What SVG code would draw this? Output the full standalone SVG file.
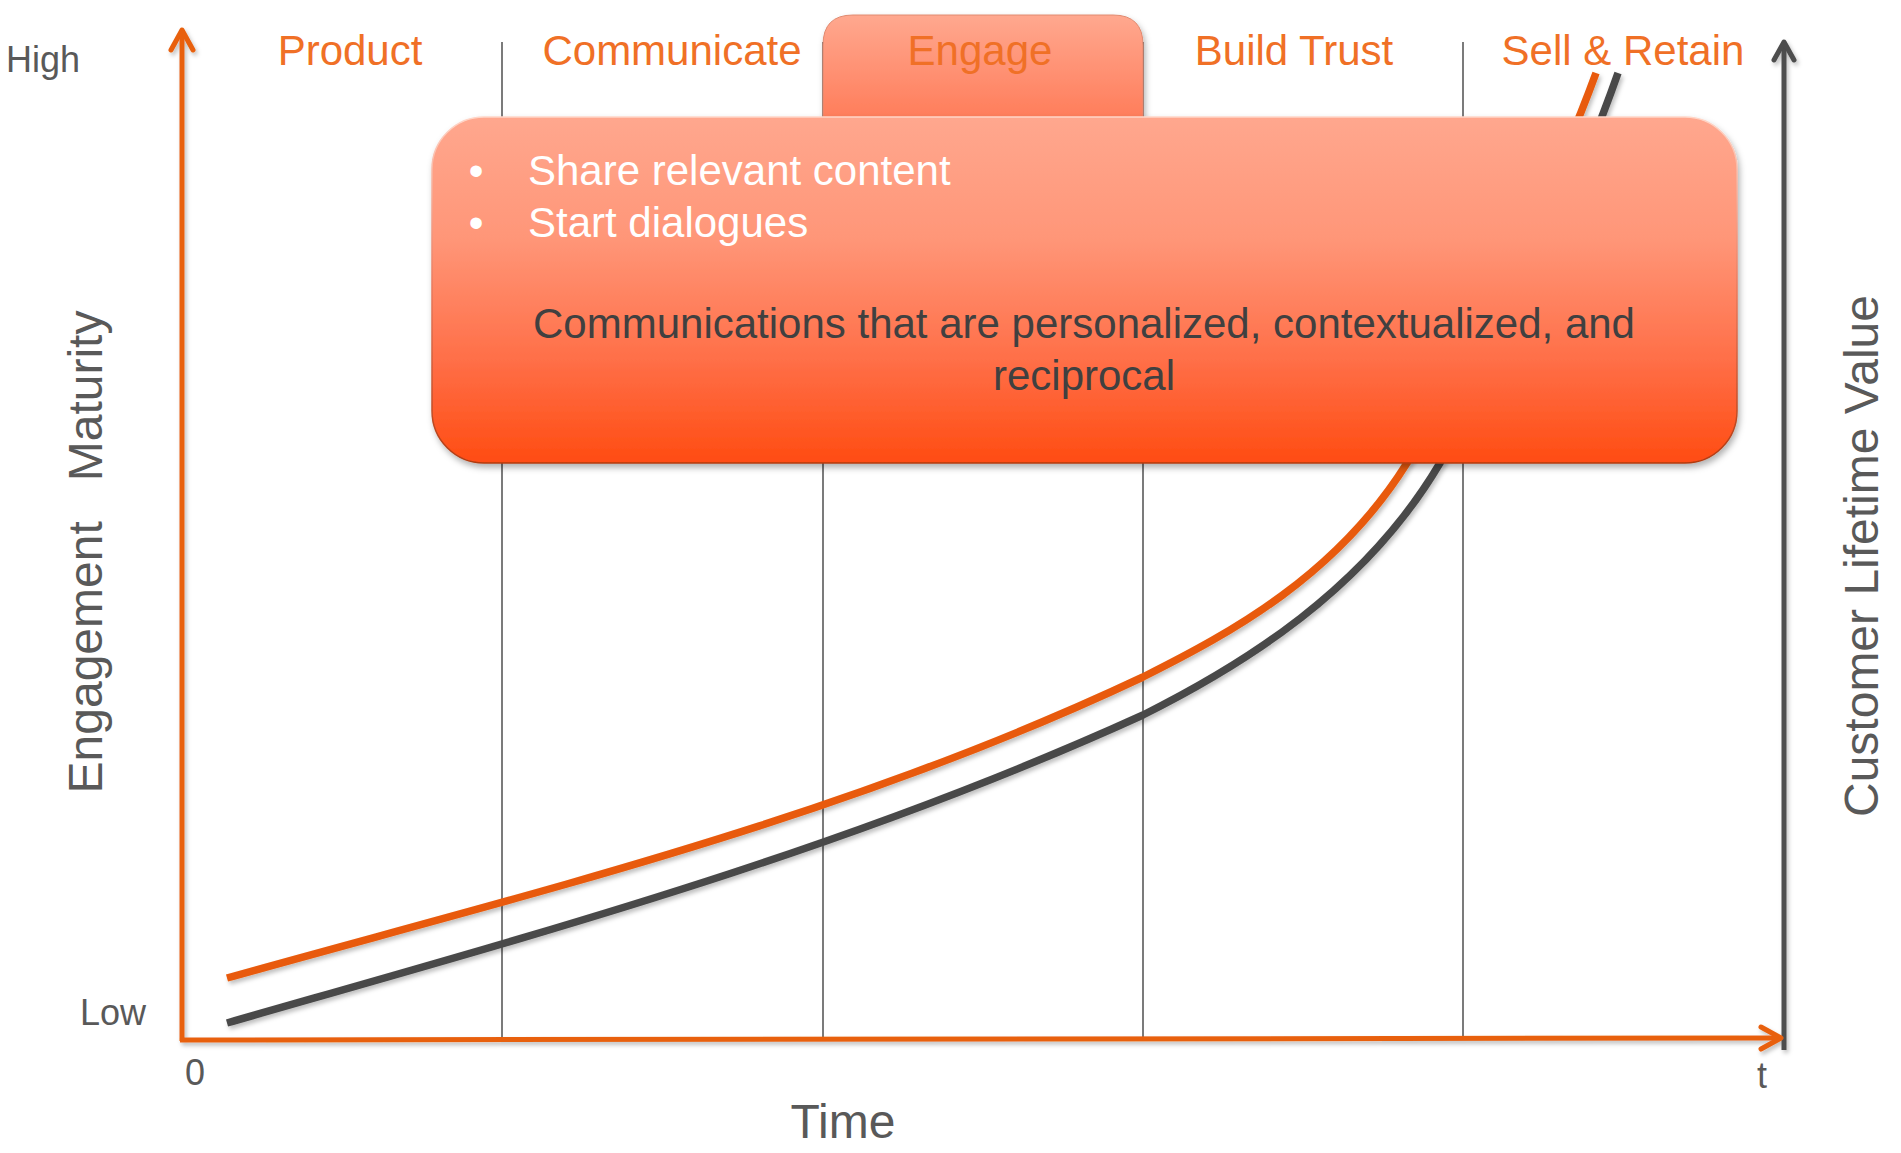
<svg xmlns="http://www.w3.org/2000/svg" width="1901" height="1153" viewBox="0 0 1901 1153">
<defs>
<style>
text{font-family:"Liberation Sans",Arial,sans-serif}
.phase{font-size:42px;fill:#F07026;text-anchor:middle}
.axlbl{font-size:48px;fill:#595959;text-anchor:middle}
.tick{font-size:36px;fill:#595959}
.div{stroke:#5A5A5A;stroke-width:1.6;fill:none}
.curve{fill:none;stroke-width:7.5;stroke-linecap:butt}
.bul{font-size:42px;fill:#FFFFFF}
.main{font-size:42px;fill:#404040;text-anchor:middle}
</style>
<linearGradient id="boxg" x1="0" y1="0" x2="0" y2="1">
<stop offset="0" stop-color="#FFA78E"/>
<stop offset="0.35" stop-color="#FF9678"/>
<stop offset="0.7" stop-color="#FF6F48"/>
<stop offset="1" stop-color="#FF4C12"/>
</linearGradient>
<linearGradient id="boxs" x1="0" y1="0" x2="0" y2="1">
<stop offset="0" stop-color="#FFD6C8"/>
<stop offset="0.5" stop-color="#E8795C"/>
<stop offset="1" stop-color="#B03A10"/>
</linearGradient>
<linearGradient id="tabg" x1="0" y1="0" x2="0" y2="1">
<stop offset="0" stop-color="#FFA88F"/>
<stop offset="1" stop-color="#FF7A57"/>
</linearGradient>
<filter id="sh" x="-10%" y="-10%" width="120%" height="130%">
<feDropShadow dx="2" dy="4" stdDeviation="3" flood-color="#000" flood-opacity="0.3"/>
</filter>
<filter id="lsh" x="-5%" y="-5%" width="110%" height="110%">
<feDropShadow dx="2" dy="3" stdDeviation="2" flood-color="#000" flood-opacity="0.25"/>
</filter>
<marker id="arrO" markerUnits="userSpaceOnUse" markerWidth="30" markerHeight="30" viewBox="-24 -15 30 30" refX="0" refY="0" orient="auto">
<path d="M-20,-11 L0,0 L-20,11" fill="none" stroke="#E8600F" stroke-width="5" stroke-linecap="round" stroke-linejoin="round"/>
</marker>
<marker id="arrG" markerUnits="userSpaceOnUse" markerWidth="30" markerHeight="30" viewBox="-24 -15 30 30" refX="0" refY="0" orient="auto">
<path d="M-18,-10 L0,0 L-18,10" fill="none" stroke="#4D4D4D" stroke-width="5" stroke-linecap="round" stroke-linejoin="round"/>
</marker>
</defs>
<rect width="1901" height="1153" fill="#FFFFFF"/>

<g id="dividers">
<line class="div" x1="502" y1="42" x2="502" y2="1040"/>
<line class="div" x1="823" y1="42" x2="823" y2="1040"/>
<line class="div" x1="1143" y1="42" x2="1143" y2="1040"/>
<line class="div" x1="1463" y1="42" x2="1463" y2="1040"/>
</g>

<g id="connectors" filter="url(#lsh)">
<line id="axis-right" x1="1784" y1="1050" x2="1784" y2="42" stroke="#4D4D4D" stroke-width="5" marker-end="url(#arrG)"/>
<line id="axis-y" x1="182" y1="1041" x2="182" y2="30" stroke="#E8600F" stroke-width="5" marker-end="url(#arrO)"/>
<line id="axis-x" x1="180" y1="1040" x2="1781" y2="1038" stroke="#E8600F" stroke-width="5" marker-end="url(#arrO)"/>
<path id="curve-gray" class="curve" stroke="#4A4A4A" d="M227,1023 C530,936 840,853 1143,715 C1243,665 1365,590 1440,463 C1500,361 1583,173 1618,73"/>
<path id="curve-orange" class="curve" stroke="#E85A0A" d="M227,978 C530,893 840,820 1143,677 C1233,632 1337,575 1407,463 C1467,367 1556,183 1596,73"/>
</g>

<g id="phase-product"><text class="phase" x="350" y="65">Product</text></g>
<g id="phase-communicate"><text class="phase" x="672" y="65">Communicate</text></g>
<g id="phase-engage">
<path d="M823,125 L823,45 Q823,15 853,15 L1113,15 Q1143,15 1143,45 L1143,125 Z" fill="url(#tabg)" stroke="#E08A70" stroke-width="1" filter="url(#sh)"/>
<text class="phase" x="980" y="65">Engage</text>
</g>
<g id="phase-buildtrust"><text class="phase" x="1294" y="65">Build Trust</text></g>
<g id="phase-sell"><text class="phase" x="1623" y="65">Sell &amp; Retain</text></g>

<g id="engage-box">
<rect x="432" y="117" width="1305" height="346" rx="52" ry="52" fill="url(#boxg)" stroke="url(#boxs)" stroke-width="1.5" filter="url(#sh)"/>
<text class="bul" x="476" y="185" text-anchor="middle">•</text>
<text class="bul" x="528" y="185">Share relevant content</text>
<text class="bul" x="476" y="237" text-anchor="middle">•</text>
<text class="bul" x="528" y="237">Start dialogues</text>
<text class="main" x="1084" y="338">Communications that are personalized, contextualized, and</text>
<text class="main" x="1084" y="390">reciprocal</text>
</g>

<g id="labels">
<text class="tick" x="6" y="72">High</text>
<text class="tick" x="80" y="1025">Low</text>
<text class="tick" x="195" y="1085" text-anchor="middle" font-size="32">0</text>
<text class="tick" x="1762" y="1088" text-anchor="middle" font-size="32">t</text>
<text class="axlbl" x="843" y="1138">Time</text>
<text class="axlbl" transform="translate(102,552) rotate(-90)" x="0" y="0" style="white-space:pre">Engagement   Maturity</text>
<text class="axlbl" transform="translate(1878,556) rotate(-90)" x="0" y="0">Customer Lifetime Value</text>
</g>
</svg>
